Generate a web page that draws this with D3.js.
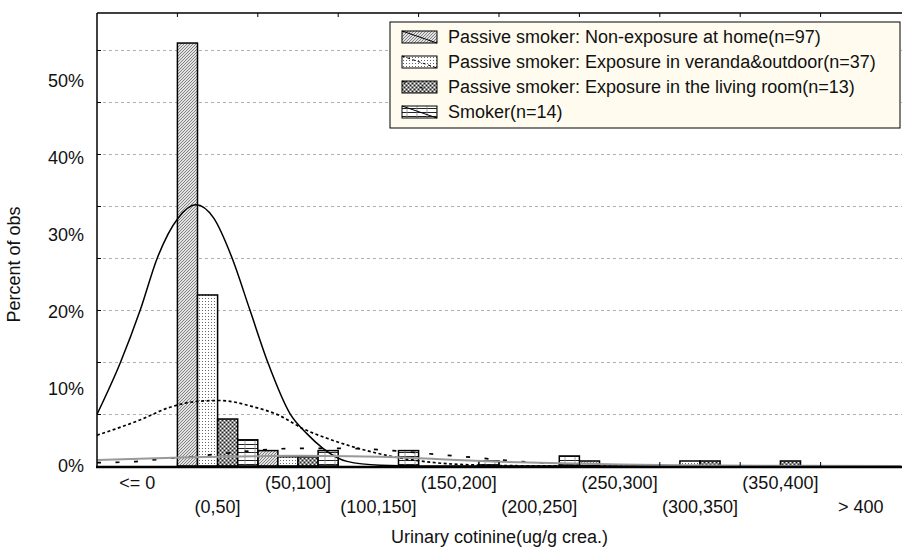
<!DOCTYPE html>
<html>
<head>
<meta charset="utf-8">
<script src="https://cdn.jsdelivr.net/npm/d3@7"></script>
<style>
  html, body { margin: 0; padding: 0; background: #fff; }
  text { font-family: "Liberation Sans", Arial, sans-serif; fill: #111; }
</style>
</head>
<body>
<div id="chart"></div>
<script>
// categories on the x axis
const categories = ["<= 0", "(0,50]", "(50,100]", "(100,150]", "(150,200]",
  "(200,250]", "(250,300]", "(300,350]", "(350,400]", "> 400"];

const groupNames = [
  "Passive smoker: Non-exposure at home(n=97)",
  "Passive smoker: Exposure in veranda&outdoor(n=37)",
  "Passive smoker: Exposure in the living room(n=13)",
  "Smoker(n=14)"
];

// percent of obs per category
const nonExposure = [0, 54.9, 2.0, 0, 0, 0, 0.65, 0, 0, 0];
const veranda     = [0, 22.2, 1.2, 0, 0, 0, 0, 0.65, 0, 0];
const livingRoom  = [0, 6.1, 1.2, 0, 0, 0, 0, 0.65, 0.65, 0];
const smoker      = [0, 3.4, 2.0, 2.0, 0.65, 1.3, 0, 0, 0, 0];

// fitted curves: [position in category units, percent]
const fitNonExposure = [[0, 6.7], [0.29, 13.4], [0.54, 20.3], [0.75, 27.0], [1.01, 32.2], [1.23, 33.9],
  [1.45, 32.2], [1.68, 27.0], [1.9, 20.3], [2.13, 13.3], [2.4, 6.8], [2.61, 4.2], [2.81, 2.3],
  [3.11, 0.6], [3.52, 0.1], [4.0, 0], [10, 0]];
const fitVeranda = [[0, 4.0], [0.54, 6.0], [0.9, 7.6], [1.26, 8.4], [1.53, 8.5], [1.94, 7.7],
  [2.28, 6.5], [2.57, 4.8], [2.86, 3.6], [3.15, 2.6], [3.64, 1.3], [4.14, 0.5], [4.76, 0.12],
  [5.5, 0.02], [10, 0]];
const fitLivingRoom = [[0, 0.43], [0.45, 0.56], [0.68, 0.78], [0.91, 1.0], [1.16, 1.2], [1.6, 1.65],
  [2.05, 2.08], [2.52, 2.3], [3.02, 2.3], [3.67, 2.0], [4.12, 1.6], [4.58, 1.2], [5.04, 0.78],
  [5.49, 0.43], [6.26, 0.15], [7.25, 0.03], [10, 0]];
const fitSmoker = [[0, 0.78], [1.16, 1.13], [2.03, 1.28], [2.52, 1.32], [3.15, 1.28], [3.52, 1.2],
  [4.27, 0.87], [5.01, 0.56], [5.76, 0.35], [6.5, 0.2], [7.25, 0.1], [8.74, 0.02], [10, 0]];

const yTicks = [0, 10, 20, 30, 40, 50];
const gridStep = 6.75;

const width = 902, height = 550;
const margin = { top: 13, left: 97, bottom: 84, right: 1 };
const fontSize = 18;

const series = [nonExposure, veranda, livingRoom, smoker];
const fits = [fitNonExposure, fitVeranda, fitLivingRoom, fitSmoker];
const curveStyle = [
  { stroke: "#000", width: 1.5, dash: null },
  { stroke: "#000", width: 1.7, dash: "3,2.5" },
  { stroke: "#000", width: 1.7, dash: "4,14.5" },
  { stroke: "#999", width: 2, dash: null }
];

const svg = d3.select("#chart").append("svg")
  .attr("width", width)
  .attr("height", height);

const defs = svg.append("defs");

// hatch patterns for the four groups
let p = defs.append("pattern").attr("id", "pat0").attr("patternUnits", "userSpaceOnUse")
  .attr("width", 3).attr("height", 3);
p.append("rect").attr("width", 3).attr("height", 3).attr("fill", "#e2e2e2");
p.append("path").attr("d", "M0,3L3,0M-1,1L1,-1M2,4L4,2").attr("stroke", "#6a6a6a").attr("stroke-width", 0.8);

p = defs.append("pattern").attr("id", "pat1").attr("patternUnits", "userSpaceOnUse")
  .attr("width", 3).attr("height", 3);
p.append("rect").attr("width", 3).attr("height", 3).attr("fill", "#fff");
p.append("rect").attr("x", 1).attr("y", 1).attr("width", 1).attr("height", 1).attr("fill", "#666");

p = defs.append("pattern").attr("id", "pat2").attr("patternUnits", "userSpaceOnUse")
  .attr("width", 4).attr("height", 4);
p.append("rect").attr("width", 4).attr("height", 4).attr("fill", "#8e8e8e");
p.append("rect").attr("x", 0).attr("y", 0).attr("width", 1).attr("height", 1).attr("fill", "#fff");
p.append("rect").attr("x", 2).attr("y", 2).attr("width", 1).attr("height", 1).attr("fill", "#fff");
p.append("rect").attr("x", 2).attr("y", 0).attr("width", 1).attr("height", 1).attr("fill", "#222");
p.append("rect").attr("x", 0).attr("y", 2).attr("width", 1).attr("height", 1).attr("fill", "#222");

p = defs.append("pattern").attr("id", "pat3").attr("patternUnits", "userSpaceOnUse")
  .attr("width", 10).attr("height", 4);
p.append("rect").attr("width", 10).attr("height", 4).attr("fill", "#fff");
p.append("path").attr("d", "M0,0.5H10").attr("stroke", "#222").attr("stroke-width", 1);
p.append("path").attr("d", "M5,0V4").attr("stroke", "#888").attr("stroke-width", 0.8);

defs.append("clipPath").attr("id", "plotClip")
  .append("rect")
  .attr("x", margin.left).attr("y", margin.top)
  .attr("width", width - margin.left - margin.right)
  .attr("height", height - margin.top - margin.bottom);

/* Scales */
const x = d3.scaleBand()
  .domain(categories)
  .range([margin.left, width - margin.right])
  .padding(0);

const xg = d3.scaleBand()
  .domain(d3.range(groupNames.length))
  .range([0, x.bandwidth()])
  .padding(0);

const xc = d3.scaleLinear()
  .domain([0, categories.length])
  .range([margin.left, width - margin.right]);

const y = d3.scaleLinear()
  .domain([0, 58.8])
  .range([height - margin.bottom, margin.top]);

// Grid lines
const gridValues = d3.range(gridStep, y.domain()[1], gridStep);
svg.append("g").attr("class", "grid")
  .selectAll("line")
  .data(gridValues).enter()
  .append("line")
  .attr("x1", margin.left).attr("x2", width)
  .attr("y1", d => Math.round(y(d)) + 0.5).attr("y2", d => Math.round(y(d)) + 0.5)
  .attr("stroke", "#b0b0b0")
  .attr("stroke-dasharray", "3,3");

// small ticks on the left frame at each grid line
svg.append("g")
  .selectAll("line")
  .data(gridValues).enter()
  .append("line")
  .attr("x1", margin.left).attr("x2", margin.left + 4)
  .attr("y1", d => Math.round(y(d)) + 0.5).attr("y2", d => Math.round(y(d)) + 0.5)
  .attr("stroke", "#000");

// Bars
const barData = [];
series.forEach((s, gi) => s.forEach((v, ci) => {
  if (v > 0) barData.push({ g: gi, cat: categories[ci], value: v });
}));

svg.append("g").attr("class", "bars")
  .selectAll("rect")
  .data(barData).enter()
  .append("rect")
  .attr("x", d => x(d.cat) + xg(d.g))
  .attr("width", xg.bandwidth())
  .attr("y", d => y(d.value))
  .attr("height", d => y(0) - y(d.value))
  .attr("fill", d => `url(#pat${d.g})`)
  .attr("stroke", "#000")
  .attr("stroke-width", 1.5);

// Fitted curves
const line = d3.line()
  .x(d => xc(d[0]))
  .y(d => y(d[1]))
  .curve(d3.curveMonotoneX);

svg.append("g").attr("class", "fits")
  .attr("clip-path", "url(#plotClip)")
  .selectAll("path")
  .data(fits).enter()
  .append("path")
  .attr("d", d => line(d))
  .attr("fill", "none")
  .attr("stroke", (d, i) => curveStyle[i].stroke)
  .attr("stroke-width", (d, i) => curveStyle[i].width)
  .attr("stroke-dasharray", (d, i) => curveStyle[i].dash);

// Frame
svg.append("line")
  .attr("x1", margin.left).attr("x2", margin.left)
  .attr("y1", margin.top).attr("y2", y(0))
  .attr("stroke", "#000").attr("stroke-width", 1.5);
svg.append("line")
  .attr("x1", margin.left).attr("x2", width)
  .attr("y1", margin.top).attr("y2", margin.top)
  .attr("stroke", "#000").attr("stroke-width", 1.5);
svg.append("line")
  .attr("x1", margin.left - 1).attr("x2", width)
  .attr("y1", y(0) + 1).attr("y2", y(0) + 1)
  .attr("stroke", "#000").attr("stroke-width", 2.5);

// Category boundary ticks top and bottom
const bounds = d3.range(1, categories.length);
svg.append("g").selectAll("line")
  .data(bounds).enter()
  .append("line")
  .attr("x1", d => xc(d)).attr("x2", d => xc(d))
  .attr("y1", margin.top).attr("y2", margin.top + 4)
  .attr("stroke", "#000");
svg.append("g").selectAll("line")
  .data(bounds).enter()
  .append("line")
  .attr("x1", d => xc(d)).attr("x2", d => xc(d))
  .attr("y1", y(0) - 4).attr("y2", y(0))
  .attr("stroke", "#000");

// Y axis labels
const yAxis = svg.append("g")
  .attr("transform", `translate(${margin.left - 13},0)`)
  .call(d3.axisLeft(y).tickValues(yTicks).tickFormat(d => d + "%").tickSize(0).tickPadding(0));
yAxis.select(".domain").remove();
yAxis.selectAll("text")
  .attr("font-size", fontSize)
  .attr("font-family", "Liberation Sans, Arial, sans-serif")
  .attr("fill", "#111");

// X axis labels, staggered in two rows
const xAxis = svg.append("g")
  .attr("transform", `translate(0,${y(0)})`)
  .call(d3.axisBottom(x).tickSize(0).tickPadding(0));
xAxis.select(".domain").remove();
xAxis.selectAll("text")
  .attr("font-size", fontSize)
  .attr("font-family", "Liberation Sans, Arial, sans-serif")
  .attr("fill", "#111")
  .attr("dy", null)
  .attr("dominant-baseline", "central")
  .attr("y", (d, i) => i % 2 === 0 ? 17 : 41);

// Axis titles
svg.append("text")
  .attr("transform", `translate(20,${(margin.top + y(0)) / 2 + 25}) rotate(-90)`)
  .attr("text-anchor", "middle")
  .attr("font-size", fontSize)
  .text("Percent of obs");

svg.append("text")
  .attr("x", (margin.left + width) / 2)
  .attr("y", 537)
  .attr("text-anchor", "middle")
  .attr("dominant-baseline", "central")
  .attr("font-size", fontSize)
  .text("Urinary cotinine(ug/g crea.)");

// Legend
const legend = svg.append("g").attr("class", "legend")
  .attr("transform", "translate(390,22)");

legend.append("rect")
  .attr("width", 510).attr("height", 106)
  .attr("fill", "#fffcef")
  .attr("stroke", "#000")
  .attr("stroke-width", 1);

const item = legend.selectAll(".item")
  .data(groupNames).enter()
  .append("g")
  .attr("class", "item")
  .attr("transform", (d, i) => `translate(12,${15 + i * 25})`);

item.append("rect")
  .attr("x", 0).attr("y", -6)
  .attr("width", 35).attr("height", 12)
  .attr("fill", (d, i) => `url(#pat${i})`)
  .attr("stroke", "#000")
  .attr("stroke-width", 1);

item.append("line")
  .attr("x1", 0).attr("y1", -6).attr("x2", 35).attr("y2", 6)
  .attr("stroke", "#000")
  .attr("stroke-width", 1)
  .attr("stroke-dasharray", (d, i) => curveStyle[i].dash);

item.append("text")
  .attr("x", 46)
  .attr("y", 0)
  .attr("dominant-baseline", "central")
  .attr("font-size", fontSize)
  .text(d => d);
</script>
</body>
</html>
